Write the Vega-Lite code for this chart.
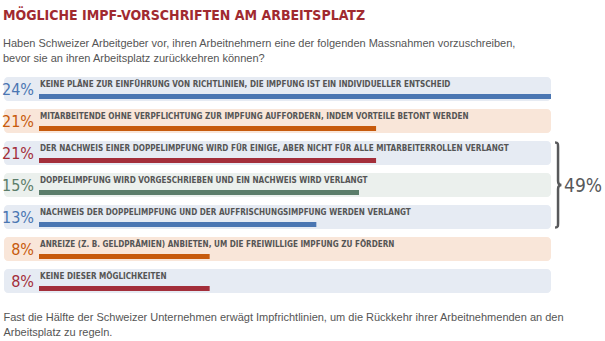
{
  "$schema": "https://vega.github.io/schema/vega-lite/v6.json",
  "width": 512,
  "height": 224,
  "autosize": "none",
  "padding": {"left": 39, "top": 73, "right": 54, "bottom": 44},
  "background": "white",
  "title": {
    "text": "MÖGLICHE IMPF-VORSCHRIFTEN AM ARBEITSPLATZ",
    "subtitle": ["Haben Schweizer Arbeitgeber vor, ihren Arbeitnehmern eine der folgenden Massnahmen vorzuschreiben,", "bevor sie an ihren Arbeitsplatz zurückkehren können?"],
    "anchor": "start",
    "frame": "group",
    "dx": -36,
    "font": "DejaVu Sans Condensed, Roboto",
    "fontSize": 14,
    "fontWeight": "bold",
    "color": "#a12a30",
    "subtitleFont": "Liberation Sans",
    "subtitleFontSize": 11,
    "subtitleColor": "#555555",
    "subtitleLineHeight": 15,
    "subtitlePadding": 15,
    "offset": 9
  },
  "config": {
    "view": {"stroke": null},
    "axis": {"domain": false, "ticks": false, "labels": false, "grid": false}
  },
  "data": {
    "values": [
      {"zeile": "r1", "prozent": "24%", "wert": 24, "balken": 24.0, "farbe": "blau", "hintergrund": "blau", "text": "KEINE PLÄNE ZUR EINFÜHRUNG VON RICHTLINIEN, DIE IMPFUNG IST EIN INDIVIDUELLER ENTSCHEID"},
      {"zeile": "r2", "prozent": "21%", "wert": 21, "balken": 15.8, "farbe": "orange", "hintergrund": "orange", "text": "MITARBEITENDE OHNE VERPFLICHTUNG ZUR IMPFUNG AUFFORDERN, INDEM VORTEILE BETONT WERDEN"},
      {"zeile": "r3", "prozent": "21%", "wert": 21, "balken": 15.8, "farbe": "rot", "hintergrund": "blau", "text": "DER NACHWEIS EINER DOPPELIMPFUNG WIRD FÜR EINIGE, ABER NICHT FÜR ALLE MITARBEITERROLLEN VERLANGT"},
      {"zeile": "r4", "prozent": "15%", "wert": 15, "balken": 15.0, "farbe": "gruen", "hintergrund": "gruen", "text": "DOPPELIMPFUNG WIRD VORGESCHRIEBEN UND EIN NACHWEIS WIRD VERLANGT"},
      {"zeile": "r5", "prozent": "13%", "wert": 13, "balken": 13.0, "farbe": "blau", "hintergrund": "blau", "text": "NACHWEIS DER DOPPELIMPFUNG UND DER AUFFRISCHUNGSIMPFUNG WERDEN VERLANGT"},
      {"zeile": "r6", "prozent": "8%", "wert": 8, "balken": 8.0, "farbe": "orange", "hintergrund": "orange", "text": "ANREIZE (Z. B. GELDPRÄMIEN) ANBIETEN, UM DIE FREIWILLIGE IMPFUNG ZU FÖRDERN"},
      {"zeile": "r7", "prozent": "8%", "wert": 8, "balken": 8.0, "farbe": "rot", "hintergrund": "blau", "text": "KEINE DIESER MÖGLICHKEITEN"}
    ]
  },
  "encoding": {
    "y": {
      "field": "zeile",
      "type": "nominal",
      "sort": ["r1", "r2", "r3", "r4", "r5", "r6", "r7"],
      "scale": {"paddingInner": 0.25, "paddingOuter": 0.125},
      "axis": null
    }
  },
  "layer": [
    {
      "mark": {"type": "rect", "cornerRadius": 4, "xOffset": -35},
      "encoding": {
        "x": {
          "datum": 0,
          "type": "quantitative",
          "scale": {"domain": [0, 24], "nice": false},
          "axis": {
            "title": ["Fast die Hälfte der Schweizer Unternehmen erwägt Impfrichtlinien, um die Rückkehr ihrer Arbeitnehmenden an den", "Arbeitsplatz zu regeln."],
            "titleFont": "Liberation Sans",
            "titleFontSize": 11,
            "titleFontWeight": "normal",
            "titleColor": "#555555",
            "titleLineHeight": 15,
            "titleAlign": "left",
            "titleAnchor": "start",
            "titleBaseline": "top",
            "titleX": -36,
            "titleY": 14
          }
        },
        "x2": {"datum": 24},
        "fill": {
          "field": "hintergrund",
          "type": "nominal",
          "scale": {"domain": ["blau", "orange", "gruen"], "range": ["#e6ebf3", "#f9e6d9", "#ebf0ed"]},
          "legend": null
        }
      }
    },
    {
      "mark": {"type": "bar", "height": 5, "yOffset": 7.5},
      "encoding": {
        "x": {"field": "balken", "type": "quantitative"},
        "color": {
          "field": "farbe",
          "type": "nominal",
          "scale": {"domain": ["blau", "orange", "rot", "gruen"], "range": ["#4a76b2", "#c75a0c", "#a32e3a", "#5b7d6a"]},
          "legend": null
        }
      }
    },
    {
      "mark": {"type": "text", "align": "right", "baseline": "middle", "dx": -5, "dy": 1, "font": "DejaVu Sans Condensed, Roboto", "fontSize": 16},
      "encoding": {
        "x": {"datum": 0, "type": "quantitative"},
        "text": {"field": "prozent"},
        "color": {"field": "farbe", "type": "nominal", "legend": null}
      }
    },
    {
      "mark": {"type": "text", "align": "left", "baseline": "middle", "dx": 1, "dy": -4, "font": "DejaVu Sans Condensed, Roboto", "fontSize": 8.1, "fontWeight": "bold", "color": "#555555"},
      "encoding": {
        "x": {"datum": 0, "type": "quantitative"},
        "text": {"field": "text"}
      }
    },
    {
      "data": {"values": [{"zeile": "r4", "summe": "49%"}]},
      "mark": {
        "type": "point",
        "shape": "M -0.07 -1 C 0 -1 0 -0.97 0 -0.9 L 0 -0.1 C 0 -0.03 0.02 0 0.08 0 C 0.02 0 0 0.03 0 0.1 L 0 0.9 C 0 0.97 0 1 -0.07 1",
        "size": 7225,
        "filled": false,
        "stroke": "#58595b",
        "strokeWidth": 2.5,
        "opacity": 1
      },
      "encoding": {
        "x": {"datum": 24.33, "type": "quantitative"}
      }
    },
    {
      "data": {"values": [{"zeile": "r4", "summe": "49%"}]},
      "mark": {"type": "text", "align": "left", "baseline": "middle", "dx": 6, "dy": 1, "font": "DejaVu Sans Condensed, Roboto", "fontSize": 19, "color": "#58595b"},
      "encoding": {
        "x": {"datum": 24.33, "type": "quantitative"},
        "text": {"field": "summe"}
      }
    }
  ]
}
